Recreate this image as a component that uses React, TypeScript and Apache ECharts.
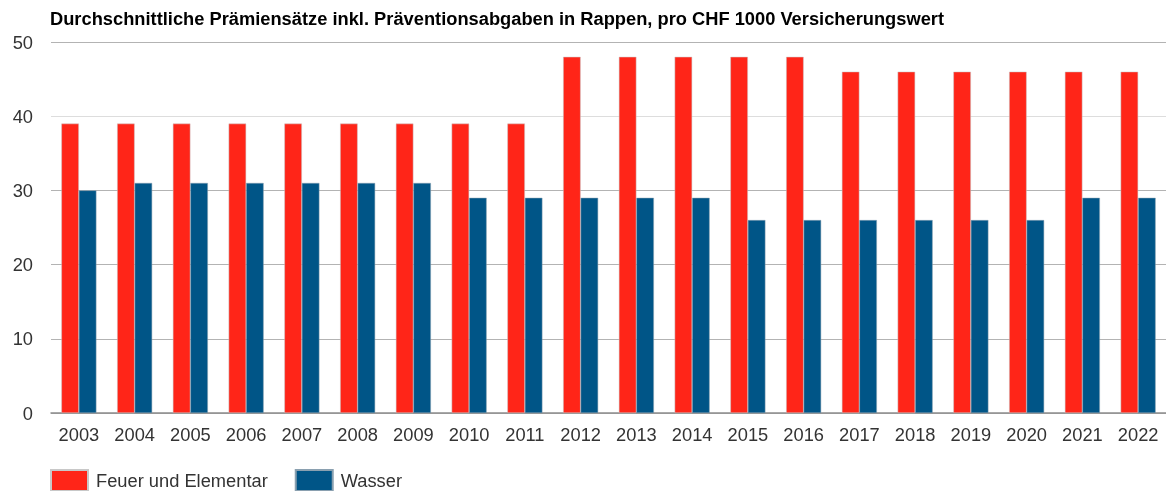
import React, { useEffect, useRef } from "react";
import * as echarts from "echarts";

const titleText = "Durchschnittliche Prämiensätze inkl. Präventionsabgaben in Rappen, pro CHF 1000 Versicherungswert";
const years = ["2003","2004","2005","2006","2007","2008","2009","2010","2011","2012","2013","2014","2015","2016","2017","2018","2019","2020","2021","2022"];
const feuer = [39,39,39,39,39,39,39,39,39,48,48,48,48,48,46,46,46,46,46,46];
const wasser = [30,31,31,31,31,31,31,29,29,29,29,29,26,26,26,26,26,26,29,29];
const seriesNames = ["Feuer und Elementar", "Wasser"];

export default function App() {
  const ref = useRef<HTMLDivElement>(null);
  useEffect(() => {
    const chart = echarts.init(ref.current!, null, { renderer: "svg" });
    const font = "Liberation Sans, Arial, sans-serif";
    chart.setOption({
      animation: false,
      textStyle: { fontFamily: font },
      title: {
        text: titleText,
        left: 45,
        top: 4,
        textStyle: { fontFamily: font, fontSize: 18.3, fontWeight: "bold", color: "#000" },
      },
      legend: {
        left: 45,
        top: 464,
        itemWidth: 37,
        itemHeight: 21,
        itemGap: 27,
        icon: "rect",
        textStyle: { fontFamily: font, fontSize: 18.3, color: "#333", padding: [0, 0, 0, 3] },
        data: seriesNames,
      },
      grid: { left: 51, right: 0, top: 42, bottom: 78 },
      xAxis: {
        type: "category",
        data: years,
        axisTick: { show: false },
        axisLine: { show: true, lineStyle: { color: "#8c8c8c", width: 1.5 } },
        axisLabel: { fontFamily: font, fontSize: 18.3, color: "#333", margin: 12 },
      },
      yAxis: {
        type: "value",
        min: 0,
        max: 50,
        interval: 10,
        axisLabel: { fontFamily: font, fontSize: 18.3, color: "#333", margin: 18 },
        axisLine: { show: false },
        axisTick: { show: false },
        splitLine: {
          lineStyle: { color: ["#b3b3b3", "#b3b3b3", "#b3b3b3", "#b3b3b3", "#dddddd", "#b3b3b3"], width: 1 },
        },
      },
      series: [
        {
          name: seriesNames[0],
          type: "bar",
          data: feuer,
          barWidth: 17.5,
          barGap: "0%",
          itemStyle: { color: "#ff2518", borderColor: "#c8c8c8", borderWidth: 0.5 },
        },
        {
          name: seriesNames[1],
          type: "bar",
          data: wasser,
          barWidth: 17.5,
          barGap: "0%",
          itemStyle: { color: "#005587", borderColor: "#8aa0b0", borderWidth: 0.5 },
        },
      ],
    });
    return () => chart.dispose();
  }, []);
  return <div ref={ref} style={{ position: "fixed", left: 0, top: 0, width: 1166, height: 491 }} />;
}
